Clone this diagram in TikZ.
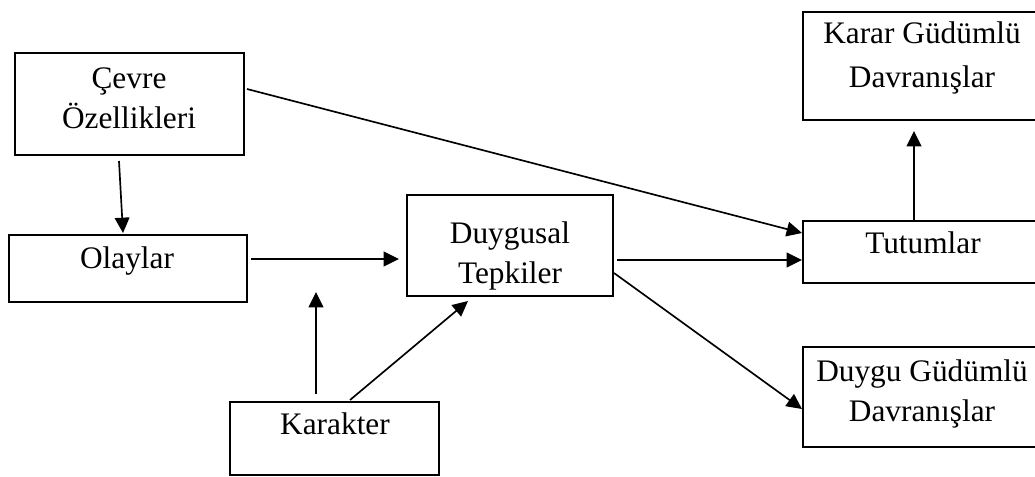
\documentclass[tikz,border=0pt]{standalone}
\usepackage{fontspec}
\setmainfont{Liberation Serif}
\usetikzlibrary{arrows.meta}
\usetikzlibrary{calc}

\begin{document}
\begin{tikzpicture}[x=0.75pt,y=0.75pt,yscale=-1,xscale=1,
  box/.style={draw, line width=1.5pt, inner sep=0pt},
  label/.style={inner sep=0pt, align=center, font=\fontsize{23.5}{30}\selectfont},
  link/.style={line width=1.25pt, -{Triangle[length=11.5pt,width=11pt]}}]
\useasboundingbox (0,0) rectangle (1035,476);
\clip (0,0) rectangle (1035,476);

%Shape: Rectangle
\node [box, minimum width=171.75pt, minimum height=76.5pt] (cevre) at (129.5,104) {};
%Shape: Rectangle
\node [box, minimum width=178.5pt, minimum height=81pt] (karar) at (922,66) {};
%Shape: Rectangle
\node [box, minimum width=178.5pt, minimum height=50.25pt] (olay) at (128,268.5) {};
%Shape: Rectangle
\node [box, minimum width=154.5pt, minimum height=75.75pt] (duyg) at (510,245.5) {};
%Shape: Rectangle
\node [box, minimum width=178.5pt, minimum height=46.5pt] (tutum) at (922,252) {};
%Shape: Rectangle
\node [box, minimum width=178.5pt, minimum height=75pt] (duygudav) at (922,397) {};
%Shape: Rectangle
\node [box, minimum width=209*0.75pt, minimum height=54.75pt] (karakter) at (334.5,438.5) {};

% Text Node
\node [label] (cevreText) at (129,98) {Çevre\\Özellikleri};
% Text Node
\node [label] (kararText) at (922,57.5) {Karar Güdümlü\\[3pt]Davranışlar};
% Text Node
\node [label, anchor=base] (olayText) at (127,268) {Olaylar};
% Text Node
\node [label] (duygText) at (510,256) {Duygusal\\Tepkiler};
% Text Node
\node [label, anchor=base] (tutumText) at (923,253) {Tutumlar};
% Text Node
\node [label] (duygudavText) at (922,394) {Duygu Güdümlü\\Davranışlar};
% Text Node
\node [label, anchor=base] (karakterText) at (335,434) {Karakter};

\coordinate (open) at (316,292);

%Straight Lines
\draw [link] ($(cevre.east)+(2,-15)$) -- ($(tutum.west)+(0,-19)$);
%Straight Lines
\draw [link] ($(cevre.south)+(-10.5,5)$) -- ($(olay.north)+(-5,-1)$);
%Straight Lines
\draw [link] ($(olay.east)+(3,-9.5)$) -- ($(duyg.west)+(-7,13.5)$);
%Straight Lines
\draw [link] ($(duyg.east)+(3,14.5)$) -- ($(tutum.west)+(0,8)$);
%Straight Lines
\draw [link] ($(duyg.east)+(0,27.5)$) -- ($(duygudav.west)+(0,12)$);
%Straight Lines
\draw [link] ($(tutum.north)+(-8,0)$) -- ($(karar.south)+(-8,10)$);
%Straight Lines
\draw [link] ($(karakter.north)+(-18.5,-7)$) -- (open);
%Straight Lines
\draw [link] ($(karakter.north)+(15.5,-1)$) -- ($(duyg.south)+(-42,4)$);

\end{tikzpicture}
\end{document}
